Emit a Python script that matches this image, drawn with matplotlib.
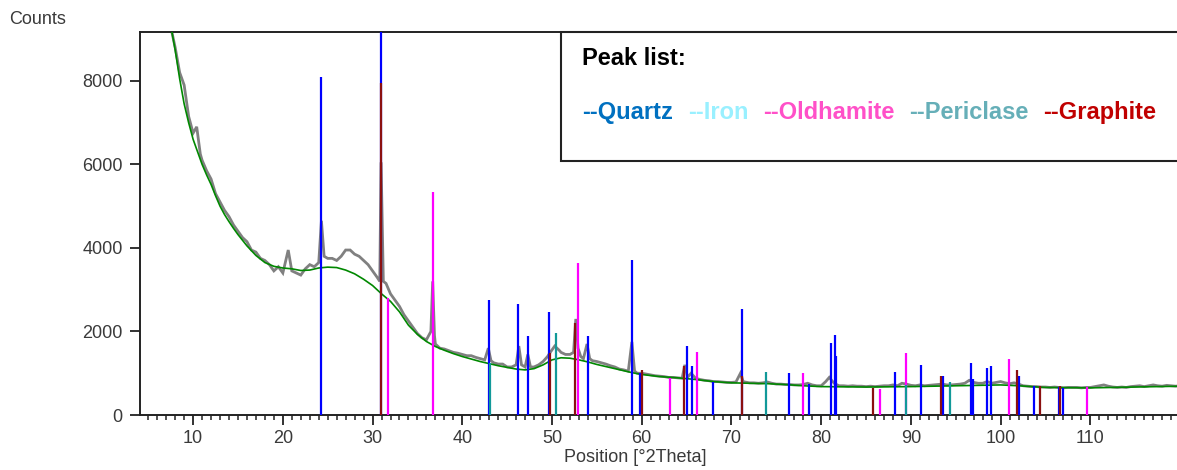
import matplotlib
matplotlib.use('Agg')
import matplotlib.pyplot as plt
from matplotlib.ticker import MultipleLocator, FixedLocator
from matplotlib.patches import Rectangle

plt.rcParams['font.family'] = ['Liberation Sans', 'DejaVu Sans']

# ---------------- data ----------------
# measured pattern (grey)
obs_x = [7.4, 8.0, 8.5, 9.0, 9.5, 10.0, 10.4, 10.8, 11.0, 11.5, 12.0, 12.5, 13.0, 13.5, 14.0,
         14.5, 15.0, 15.5, 16.0, 16.5, 17.0, 17.5, 18.0, 18.5, 19.0, 19.5, 20.0, 20.6, 21.0,
         21.5, 22.0, 22.5, 23.0, 23.5, 24.0, 24.3, 24.6, 25.0, 25.5, 26.0, 26.5, 27.0, 27.5,
         28.0, 28.5, 29.0, 29.5, 30.0, 30.5, 30.8, 30.95, 31.2, 31.5, 32.0, 32.5, 33.0, 33.5,
         34.0, 34.5, 35.0, 35.5, 36.0, 36.5, 36.7, 36.9, 37.0, 37.5, 38.0, 38.5, 39.0, 39.5,
         40.0, 40.5, 41.0, 41.5, 42.0, 42.5, 42.9, 43.2, 43.5, 44.0, 44.5, 45.0, 45.5, 46.0,
         46.3, 46.6, 47.0, 47.3, 47.6, 48.0, 48.5, 49.0, 49.5, 49.8, 50.3, 50.8, 51.0, 51.5,
         52.0, 52.4, 52.65, 52.9, 53.2, 53.5, 53.9, 54.2, 54.5, 55.0, 55.5, 56.0, 56.5, 57.0,
         57.5, 58.0, 58.5, 58.9, 59.2, 59.5, 60.0, 60.5, 61.0, 61.5, 62.0, 62.5, 63.0, 63.5,
         64.0, 64.5, 64.8, 65.1, 65.5, 66.0, 66.5, 67.0, 67.5, 68.0, 68.5, 69.0, 69.5, 70.0,
         70.5, 71.0, 71.3, 71.5, 72.0, 72.5, 73.0, 73.5, 74.0, 74.5, 75.0, 75.5, 76.0, 76.5,
         77.0, 77.5, 78.0, 78.5, 79.0, 79.5, 80.0, 80.5, 80.9, 81.2, 81.5, 82.0, 82.5, 83.0,
         83.5, 84.0, 84.5, 85.0, 85.5, 86.0, 86.5, 87.0, 87.5, 88.0, 88.5, 89.0, 89.5, 90.0,
         90.5, 91.0, 91.5, 92.0, 92.5, 93.0, 93.5, 94.0, 94.5, 95.0, 95.5, 96.0, 96.5, 97.0,
         97.5, 98.0, 98.5, 99.0, 99.5, 100.0, 100.5, 101.0, 101.5, 102.0, 102.5, 103.0, 103.5,
         104.0, 104.5, 105.0, 105.5, 106.0, 106.5, 107.0, 107.5, 108.0, 108.5, 109.0, 109.5,
         110.0, 110.5, 111.0, 111.5, 112.0, 112.5, 113.0, 113.5, 114.0, 114.5, 115.0, 115.5,
         116.0, 116.5, 117.0, 117.5, 118.0, 118.5, 119.0, 119.5, 120.0]
obs_y = [9400, 8800, 8200, 7900, 7150, 6750, 6900, 6250, 6100, 5850, 5650, 5300, 5100, 4900, 4750,
         4550, 4400, 4250, 4150, 3950, 3900, 3750, 3700, 3600, 3450, 3550, 3400, 3950, 3450,
         3400, 3350, 3500, 3600, 3550, 3650, 4650, 3800, 3750, 3750, 3700, 3800, 3950, 3950,
         3850, 3800, 3700, 3600, 3450, 3300, 3200, 6050, 3200, 3150, 2900, 2750, 2600, 2400,
         2250, 2100, 1950, 1850, 1800, 2000, 3200, 1900, 1700, 1600, 1580, 1540, 1500, 1480,
         1450, 1420, 1420, 1380, 1350, 1320, 1600, 1300, 1250, 1220, 1220, 1150, 1150, 1200,
         1650, 1200, 1150, 1450, 1150, 1150, 1200, 1280, 1400, 1500, 1650, 1550, 1500, 1450,
         1450, 1500, 2300, 1600, 1400, 1350, 1700, 1350, 1300, 1280, 1250, 1220, 1180, 1150,
         1100, 1080, 1050, 1750, 1050, 1000, 1000, 980, 960, 940, 930, 920, 900, 900,
         890, 880, 1200, 900, 1000, 880, 850, 830, 820, 800, 800, 790, 780, 780,
         790, 1000, 800, 790, 770, 770, 760, 770, 790, 760, 740, 740, 730, 730,
         720, 720, 730, 760, 720, 700, 700, 800, 900, 820, 750, 700, 700, 690,
         700, 690, 690, 680, 690, 680, 690, 700, 700, 720, 700, 760, 740, 710,
         700, 720, 700, 710, 720, 730, 740, 720, 720, 730, 740, 760, 830, 780,
         760, 760, 800, 760, 780, 800, 770, 750, 770, 740, 700, 690, 680,
         680, 670, 670, 660, 670, 660, 650, 660, 660, 660, 650, 660,
         660, 680, 700, 720, 690, 670, 660, 670, 660, 680, 690, 700,
         680, 700, 720, 700, 690, 710, 700, 690, 700]

# calculated background (green)
bg_x = [7.4, 8.0, 8.5, 9.0, 9.5, 10.0, 10.5, 11.0, 11.5, 12.0, 12.5, 13.0, 13.5, 14.0, 14.5,
        15.0, 16.0, 17.0, 18.0, 19.0, 20.0, 21.0, 22.0, 23.0, 24.0, 25.0, 26.0, 27.0, 28.0,
        29.0, 30.0, 31.0, 32.0, 33.0, 34.0, 35.0, 36.0, 37.0, 38.0, 39.0, 40.0, 41.0, 42.0,
        43.0, 44.0, 45.0, 46.0, 47.0, 48.0, 49.0, 50.0, 51.0, 52.0, 53.0, 54.0, 55.0, 56.0,
        57.0, 58.0, 59.0, 60.0, 62.0, 64.0, 66.0, 68.0, 70.0, 72.0, 74.0, 76.0, 78.0, 80.0,
        85.0, 90.0, 95.0, 100.0, 102.0, 105.0, 110.0, 115.0, 120.0]
bg_y = [9450, 8740, 8050, 7450, 7000, 6600, 6300, 6000, 5750, 5520, 5250, 5000, 4800, 4630, 4470,
        4320, 4050, 3820, 3650, 3560, 3520, 3500, 3460, 3470, 3520, 3540, 3530, 3470, 3380,
        3250, 3100, 2900, 2720, 2470, 2150, 1930, 1760, 1640, 1550, 1470, 1400, 1340, 1280,
        1230, 1180, 1140, 1100, 1080, 1110, 1200, 1320, 1370, 1360, 1320, 1270, 1210, 1160,
        1110, 1060, 1010, 970, 920, 890, 850, 800, 770, 760, 750, 730, 700, 680,
        670, 680, 700, 720, 700, 660, 650, 670, 690]

# reference peak lists
quartz_pos = [24.3, 30.9, 43.0, 46.2, 47.3, 49.7, 54.0, 58.9, 59.8, 65.0, 65.6, 67.9, 71.2,
              76.4, 78.6, 81.1, 81.5, 81.7, 88.2, 91.1, 93.6, 96.7, 96.9, 98.5, 98.9, 102.1,
              103.7, 106.5, 107.0]
quartz_int = [8100, 10000, 2750, 2650, 1900, 2470, 1900, 3710, 1000, 1660, 1170, 800, 2530,
              1000, 740, 1720, 1910, 1420, 1040, 1190, 930, 1240, 870, 1130, 1170, 930,
              700, 670, 650]
iron_pos = []
iron_int = []
oldhamite_pos = [31.7, 36.7, 52.9, 63.1, 66.2, 78.0, 86.5, 89.4, 100.9, 109.6]
oldhamite_int = [2800, 5340, 3640, 890, 1520, 1000, 620, 1480, 1330, 660]
periclase_pos = [43.1, 50.4, 73.8, 89.4, 94.3]
periclase_int = [1250, 1960, 1030, 720, 800]
graphite_pos = [30.9, 49.8, 52.6, 60.0, 64.7, 71.2, 85.8, 93.4, 101.8, 104.4, 106.6]
graphite_int = [7950, 1480, 2200, 1080, 1170, 930, 650, 930, 1080, 700, 700]

legend_names = ['--Quartz', '--Iron', '--Oldhamite', '--Periclase', '--Graphite']
legend_colors = ['#0070C0', '#99F0FF', '#FF50C8', '#66AFB8', '#C00000']

x_ticks = [10, 20, 30, 40, 50, 60, 70, 80, 90, 100, 110]
y_ticks = [0, 2000, 4000, 6000, 8000]

# ---------------- figure ----------------
W, H = 1177, 470
fig = plt.figure(figsize=(W / 100, H / 100), dpi=100)
ax = fig.add_axes([140 / W, 1 - 415 / H, (1181 - 140) / W, (415 - 32) / H])

ax.plot(obs_x, obs_y, color='#808080', lw=2.0, zorder=2, solid_joinstyle='miter')
ax.plot(bg_x, bg_y, color='#008800', lw=1.2, zorder=3)

ax.vlines(quartz_pos, 0, quartz_int, colors='#0000FF', lw=1.6, zorder=4)
if iron_pos:
    ax.vlines(iron_pos, 0, iron_int, colors='#99F0FF', lw=1.6, zorder=4)
ax.vlines(oldhamite_pos, 0, oldhamite_int, colors='#FF00FF', lw=1.6, zorder=5)
ax.vlines(periclase_pos, 0, periclase_int, colors='#119999', lw=1.6, zorder=6)
ax.vlines(graphite_pos, 0, graphite_int, colors='#8B1010', lw=1.6, zorder=7)

ax.set_xlim(4.08, 120.1)
ax.set_ylim(0, 9170)

ax.xaxis.set_major_locator(FixedLocator(x_ticks))
ax.xaxis.set_minor_locator(MultipleLocator(1))
ax.yaxis.set_major_locator(FixedLocator(y_ticks))

tcol = '#3a3a3a'
ax.tick_params(axis='both', which='major', direction='out', length=7.5, width=1.3,
               color='#222222', labelsize=13, labelcolor=tcol)
ax.tick_params(axis='x', which='major', pad=3)
ax.tick_params(axis='y', which='major', pad=5)
ax.tick_params(axis='x', which='minor', direction='out', length=3.5, width=1.1, color='#222222')
ax.set_xticklabels([str(v) for v in x_ticks])
ax.set_yticklabels([str(v) for v in y_ticks])

for s in ['left', 'bottom', 'top']:
    ax.spines[s].set_linewidth(1.4)
    ax.spines[s].set_color('#222222')
ax.spines['right'].set_visible(False)

fig.text(9 / W, 1 - 19 / H, 'Counts', fontsize=13, color=tcol, ha='left', va='center')
fig.text(635 / W, 1 - 458 / H, 'Position [°2Theta]', fontsize=13, color=tcol,
         ha='center', va='center')

# peak list box
box = Rectangle((561 / W, 1 - 161 / H), (1190 - 561) / W, (161 - 32) / H,
                transform=fig.transFigure, facecolor='white', edgecolor='#222222',
                lw=1.5, zorder=10)
fig.add_artist(box)
fig.text(582 / W, 1 - 65 / H, 'Peak list:', fontsize=17, fontweight='bold',
         color='black', ha='left', va='baseline', zorder=11)
legend_x = [582, 688, 763, 909, 1043]
for name, col, xp in zip(legend_names, legend_colors, legend_x):
    fig.text(xp / W, 1 - 119 / H, name, fontsize=17, fontweight='bold', color=col,
             ha='left', va='baseline', zorder=11)

fig.savefig('out.png', dpi=100)
